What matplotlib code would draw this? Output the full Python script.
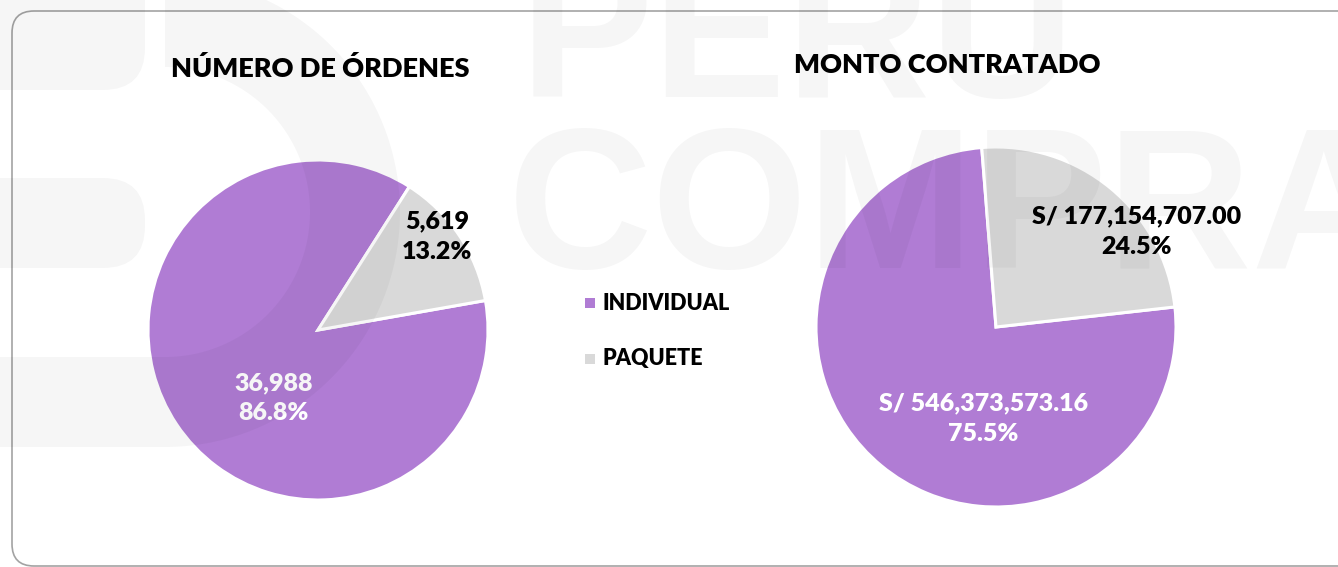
import matplotlib
matplotlib.use("Agg")
import matplotlib.pyplot as plt
from matplotlib.patches import FancyBboxPatch, Rectangle, Polygon
import numpy as np

# ---------------- data ----------------
categories = ["INDIVIDUAL", "PAQUETE"]
ordenes = [36988, 5619]
monto = [546373573.16, 177154707.00]
titles = ["NÚMERO DE ÓRDENES", "MONTO CONTRATADO"]
ordenes_labels = ["36,988", "5,619"]
monto_labels = ["S/ 546,373,573.16", "S/ 177,154,707.00"]

colors = ["#B07CD4", "#D9D9D9"]
W, H = 1338, 567
FONT = ["Lato", "DejaVu Sans"]
WEIGHT = 800

fig = plt.figure(figsize=(W / 100, H / 100), dpi=100)
fig.patch.set_facecolor("white")

# background axes in pixel coordinates
bg = fig.add_axes([0, 0, 1, 1], zorder=0)
bg.set_xlim(0, W)
bg.set_ylim(H, 0)
bg.axis("off")
bg.add_patch(FancyBboxPatch((12, 11), 1400, 555,
                            boxstyle="round,pad=0,rounding_size=22",
                            fc="white", ec="#A3A3A3", lw=1.2))


def pie_axes(cx, cy, r):
    return fig.add_axes([(cx - r) / W, (H - cy - r) / H, 2 * r / W, 2 * r / H], zorder=2)


def pct(vals):
    tot = sum(vals)
    return [f"{100 * v / tot:.1f}%" for v in vals]


lbl = dict(ha="center", va="center", fontsize=18, fontweight=WEIGHT,
           family=FONT, linespacing=1.45)

# left pie
ax1 = pie_axes(318, 330, 170)
ax1.pie(ordenes, colors=colors, startangle=10, counterclock=False,
        wedgeprops=dict(edgecolor="white", linewidth=2.2))
ax1.set_xlim(-1, 1)
ax1.set_ylim(-1, 1)
p1 = pct(ordenes)
ax1.text(-0.26, -0.40, f"{ordenes_labels[0]}\n{p1[0]}", color="white", **lbl)
ax1.text(0.70, 0.55, f"{ordenes_labels[1]}\n{p1[1]}", color="black", **lbl)

# right pie
ax2 = pie_axes(996, 327, 180)
ax2.pie(monto, colors=colors, startangle=6.4, counterclock=False,
        wedgeprops=dict(edgecolor="white", linewidth=2.2))
ax2.set_xlim(-1, 1)
ax2.set_ylim(-1, 1)
p2 = pct(monto)
ax2.text(-0.07, -0.51, f"{monto_labels[0]}\n{p2[0]}", color="white", **lbl)
ax2.text(0.78, 0.53, f"{monto_labels[1]}\n{p2[1]}", color="black", **lbl)

# overlay (watermark, titles, legend)
ov = fig.add_axes([0, 0, 1, 1], zorder=5)
ov.set_xlim(0, W)
ov.set_ylim(H, 0)
ov.axis("off")
ov.patch.set_alpha(0)

A = 0.035
wm = dict(color="black", alpha=A, lw=0)
ov.text(520, 97, "PERU", fontsize=144, fontweight="bold", family="Liberation Sans",
        color="black", alpha=A, ha="left", va="baseline")
ov.text(508, 268, "COMPRA", fontsize=144, fontweight="bold", family="Liberation Sans",
        color="black", alpha=A, ha="left", va="baseline")

# logo shapes on the left (D-shaped band + two rounded bars)
cx, cy, R, band = 165, 212, 235, 90
th = np.linspace(-np.pi / 2, np.pi / 2, 120)
outer = np.column_stack([cx + R * np.cos(th), cy + R * np.sin(th)])
inner = np.column_stack([cx + (R - band) * np.cos(th[::-1]), cy + (R - band) * np.sin(th[::-1])])
dshape = np.vstack([outer, [[-20, cy + R], [-20, cy + R - band]], inner])
ov.add_patch(Polygon(dshape, closed=True, **wm))
ov.add_patch(FancyBboxPatch((-60, -40), 205, 130,
                            boxstyle="round,pad=0,rounding_size=42", **wm))
ov.add_patch(FancyBboxPatch((-60, 178), 205, 90,
                            boxstyle="round,pad=0,rounding_size=42", **wm))

ov.text(320, 77, titles[0], ha="center", va="baseline", fontsize=19.5,
        fontweight=WEIGHT, family=FONT)
ov.text(947, 73, titles[1], ha="center", va="baseline", fontsize=19.5,
        fontweight=WEIGHT, family=FONT)

for i, (cat, yy) in enumerate(zip(categories, [303, 359])):
    ov.add_patch(Rectangle((585, yy - 5), 10, 10, fc=colors[i], ec="none"))
    ov.text(603, yy, cat, ha="left", va="center", fontsize=15.5,
            fontweight=WEIGHT, family=FONT)

fig.savefig("out.png", dpi=100, facecolor="white")
